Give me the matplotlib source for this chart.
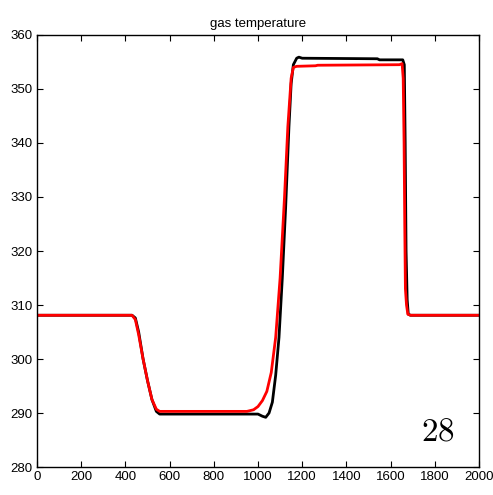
"""Gas temperature trace: two model runs (black vs red) over 0-2000 s."""
import matplotlib
matplotlib.use("Agg")
import matplotlib.pyplot as plt

plt.rcParams["font.family"] = ["Liberation Sans", "DejaVu Sans"]
plt.rcParams["mathtext.fontset"] = "cm"

# black run
black_t = [0, 430, 445, 460, 480, 500, 520, 540, 555, 1000, 1020, 1035, 1050,
           1065, 1080, 1095, 1110, 1125, 1140, 1150, 1160, 1175, 1185, 1200,
           1540, 1550, 1655, 1662, 1666, 1670, 1675, 1680, 1690, 2000]
black_T = [308.1, 308.1, 307.6, 305.0, 300.0, 296.0, 292.5, 290.3, 289.8,
           289.8, 289.4, 289.2, 290.0, 292.0, 297.0, 304.0, 315.0, 328.0,
           343.0, 351.0, 354.5, 355.7, 355.9, 355.7, 355.6, 355.4, 355.4,
           354.5, 340.0, 320.0, 311.0, 308.3, 308.1, 308.1]

# red run
red_t = [0, 430, 445, 460, 480, 500, 520, 540, 555, 950, 980, 1000, 1020,
         1040, 1060, 1080, 1100, 1120, 1135, 1150, 1160, 1175, 1260, 1270,
         1640, 1652, 1657, 1661, 1664, 1667, 1672, 1678, 1690, 2000]
red_T = [308.1, 308.1, 307.3, 304.5, 300.0, 296.0, 292.5, 290.7, 290.3,
         290.3, 290.6, 291.2, 292.3, 294.0, 297.5, 304.0, 315.0, 330.0,
         343.0, 352.0, 354.0, 354.2, 354.3, 354.4, 354.5, 354.7, 352.0,
         340.0, 325.0, 313.0, 310.0, 308.3, 308.1, 308.1]

x_ticks = list(range(0, 2001, 200))
y_ticks = list(range(280, 361, 10))

fig = plt.figure(figsize=(4.93, 4.95), dpi=100)
ax = fig.add_axes([37 / 493, 1 - 467 / 495, 442 / 493, 432 / 495])

ax.plot(black_t, black_T, color="black", lw=2.0, solid_joinstyle="round")
ax.plot(red_t, red_T, color="red", lw=2.0, solid_joinstyle="round")

ax.set_xlim(0, 2000)
ax.set_ylim(280, 360)
ax.set_xticks(x_ticks)
ax.set_yticks(y_ticks)
ax.tick_params(direction="in", top=True, right=True, length=4, width=0.8,
               labelsize=9.5, pad=3)
for s in ax.spines.values():
    s.set_linewidth(1.0)

ax.set_title("gas temperature", fontsize=9.5, pad=6)
ax.text(0.907, 0.081, r"$\mathrm{28}$", transform=ax.transAxes,
        fontsize=24, ha="center", va="center")

fig.savefig("out.png", dpi=100)
